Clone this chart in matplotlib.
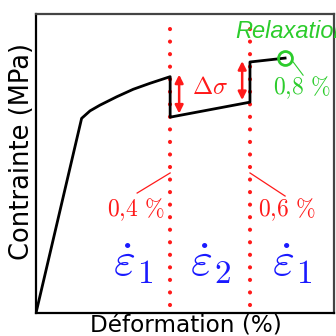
import matplotlib
matplotlib.use('Agg')
import matplotlib.pyplot as plt

plt.rcParams['mathtext.fontset'] = 'cm'

# schematic stress-strain curve (arbitrary units)
strain = [0, 15.2, 18.0, 21.3, 26.9, 32.4, 38.0, 44.7, 44.7, 71.3, 71.3, 83.0]
stress = [0, 64.9, 67.4, 69.3, 72.1, 74.6, 76.6, 78.8, 65.3, 70.3, 83.7, 85.0]

# strain-rate change positions (0,4 % and 0,6 %) and relaxation point (0,8 %)
jumps_x = [44.7, 71.3]
jump_labels = ['$0{,}4\\ \\%$', '$0{,}6\\ \\%$']
relax_x, relax_y = 83.0, 85.0

# stress jumps Δσ
arrow_x = [47.7, 68.7]
arrow_lo = [66.5, 71.0]
arrow_hi = [79.5, 84.0]

# strain-rate zone labels
zone_x = [32.3, 58.3, 85.3]
zone_labels = [r'$\dot{\varepsilon}_1$', r'$\dot{\varepsilon}_2$', r'$\dot{\varepsilon}_1$']

red = '#ff1a1a'
green = '#2ccc2c'
blue = '#1a1aff'

fig = plt.figure(figsize=(3.36, 3.36), dpi=100)
ax = fig.add_axes([36 / 336, 23 / 336, 298 / 336, 299 / 336])
ax.set_xlim(0, 99.3)
ax.set_ylim(0, 99.7)
ax.set_xticks([])
ax.set_yticks([])
for s in ax.spines.values():
    s.set_linewidth(1.6)
ax.spines['top'].set_color('#444444')
ax.spines['right'].set_color('#444444')

# dotted vertical lines
for x in jumps_x:
    ax.plot([x, x], [2.7, 96], color=red, lw=3,
            linestyle=(0, (0.01, 3.0)), dash_capstyle='round', zorder=1)

# curve
ax.plot(strain, stress, color='black', lw=2, zorder=3)

# Δσ arrows
for x, lo, hi in zip(arrow_x, arrow_lo, arrow_hi):
    ax.annotate('', xy=(x, hi), xytext=(x, lo),
                arrowprops=dict(arrowstyle='<|-|>', color=red, lw=1.8,
                                mutation_scale=12, shrinkA=0, shrinkB=0))
ax.text(58, 75.5, r'$\Delta\sigma$', color=red, fontsize=17.5,
        ha='center', va='center')

# relaxation marker
ax.plot([relax_x], [relax_y], marker='o', markersize=10, mfc='none',
        mec=green, mew=2, zorder=4)
ax.plot([85.7, 89.0], [83.7, 79.3], color=green, lw=0.8)
ax.text(66.5, 93.7, 'Relaxation', color=green, fontsize=17,
        fontstyle='italic', family='Liberation Sans', ha='left', va='center',
        clip_on=False)
ax.text(79, 75.0, '$0{,}8\\ \\%$', color=green, fontsize=17,
        ha='left', va='center')

# strain labels with leader lines
ax.plot([44.7, 33.7], [46.7, 40.0], color=red, lw=0.9)
ax.plot([71.3, 83.0], [46.7, 39.0], color=red, lw=0.9)
ax.text(23.7, 34.3, jump_labels[0], color=red, fontsize=17,
        ha='left', va='center')
ax.text(74, 34.3, jump_labels[1], color=red, fontsize=17,
        ha='left', va='center')

# strain-rate zones
for x, lab in zip(zone_x, zone_labels):
    ax.text(x, 16.5, lab, color=blue, fontsize=34,
            ha='center', va='center')

fig.text(22 / 336, 1 - 152 / 336, 'Contrainte (MPa)', rotation=90,
         fontsize=18.5, ha='center', va='center')
fig.text(186 / 336, 1 - 325 / 336, 'Déformation (%)',
         fontsize=16.7, ha='center', va='center')

fig.savefig('out.png', dpi=100)
